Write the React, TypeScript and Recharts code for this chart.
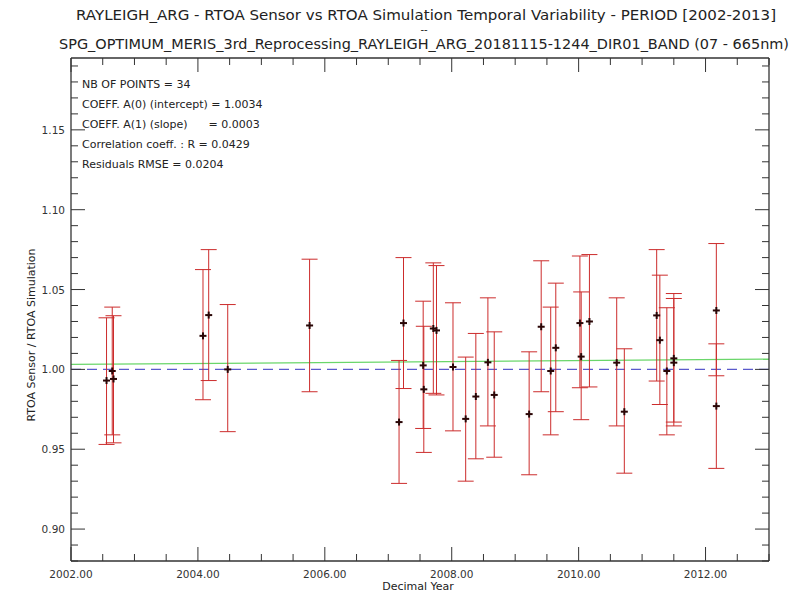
import React from 'react';
import { ScatterChart, Scatter, XAxis, YAxis, ErrorBar, ReferenceLine } from 'recharts';

// decimal year of each measurement
const YEARS = [
  2002.56, 2002.65, 2002.67, 2004.08, 2004.17, 2004.47, 2005.76, 2007.17, 2007.24, 2007.55,
  2007.56, 2007.71, 2007.76, 2008.02, 2008.22, 2008.38, 2008.57, 2008.67, 2009.22, 2009.41,
  2009.56, 2009.64, 2010.02, 2010.04, 2010.17, 2010.6, 2010.72, 2011.23, 2011.28, 2011.39,
  2011.5, 2011.5, 2012.17, 2012.17,
];
// RTOA sensor / RTOA simulation
const RATIOS = [
  0.993, 0.999, 0.994, 1.021, 1.034, 1.0, 1.0275, 0.967, 1.029, 1.0025,
  0.9875, 1.0256, 1.0244, 1.0015, 0.969, 0.983, 1.0044, 0.984, 0.972, 1.0267,
  0.999, 1.0135, 1.029, 1.008, 1.03, 1.0042, 0.9735, 1.0338, 1.0183, 0.999,
  1.0069, 1.0042, 1.0369, 0.977,
];
// error bar ends
const BAR_TOP = [
  1.0323, 1.039, 1.0336, 1.0625, 1.075, 1.0406, 1.069, 1.0056, 1.07, 1.0427,
  1.027, 1.0667, 1.065, 1.0417, 1.0077, 1.0225, 1.0448, 1.0235, 1.011, 1.068,
  1.039, 1.054, 1.071, 1.0485, 1.0719, 1.0448, 1.0129, 1.075, 1.059, 1.0386,
  1.0475, 1.0444, 1.0788, 1.016,
];
const BAR_BOTTOM = [
  0.953, 0.959, 0.954, 0.981, 0.993, 0.961, 0.986, 0.9286, 0.988, 0.963,
  0.948, 0.985, 0.984, 0.9615, 0.93, 0.944, 0.9646, 0.945, 0.934, 0.986,
  0.959, 0.9735, 0.9885, 0.9685, 0.989, 0.9646, 0.935, 0.9927, 0.978, 0.959,
  0.967, 0.9646, 0.996, 0.938,
];

// linear fit, read at both ends of the period
const FIT_YEARS = [2002, 2013];
const FIT_VALUES = [1.0031, 1.0064];

const X_TICKS = [
  2002, 2002.5, 2003, 2003.5, 2004, 2004.5, 2005, 2005.5, 2006, 2006.5, 2007, 2007.5,
  2008, 2008.5, 2009, 2009.5, 2010, 2010.5, 2011, 2011.5, 2012, 2012.5, 2013,
];
const X_LABELLED = [2002, 2004, 2006, 2008, 2010, 2012];
const Y_TICKS = [
  0.88, 0.89, 0.9, 0.91, 0.92, 0.93, 0.94, 0.95, 0.96, 0.97, 0.98, 0.99, 1.0, 1.01,
  1.02, 1.03, 1.04, 1.05, 1.06, 1.07, 1.08, 1.09, 1.1, 1.11, 1.12, 1.13, 1.14, 1.15,
  1.16, 1.17, 1.18, 1.19,
];
const Y_LABELLED = [0.9, 0.95, 1.0, 1.05, 1.1, 1.15];

const STATS = [
  'NB OF POINTS = 34',
  'COEFF. A(0) (intercept) = 1.0034',
  'COEFF. A(1) (slope)      = 0.0003',
  'Correlation coeff. : R = 0.0429',
  'Residuals RMSE = 0.0204',
];

const TITLE_1 = 'RAYLEIGH_ARG - RTOA Sensor vs RTOA Simulation Temporal Variability - PERIOD [2002-2013]';
const TITLE_2 = 'SPG_OPTIMUM_MERIS_3rd_Reprocessing_RAYLEIGH_ARG_20181115-1244_DIR01_BAND (07 - 665nm)';

const AXIS = '#333';
const FONT = "'DejaVu Sans', sans-serif";

const points = YEARS.map((x, i) => ({
  x,
  y: RATIOS[i],
  err: [RATIOS[i] - BAR_BOTTOM[i], BAR_TOP[i] - RATIOS[i]],
}));

const isMajor = (v: number, list: number[]) => list.some((m) => Math.abs(m - v) < 1e-6);

const BottomTick = (p: any) => {
  const major = isMajor(p.payload.value, X_LABELLED);
  return (
    <g>
      <line x1={p.x} x2={p.x} y1={p.y} y2={p.y - (major ? 14 : 7)} stroke={AXIS} />
      {major && (
        <text x={p.x} y={p.y + 17} textAnchor="middle" fontSize={10.5} fontFamily={FONT} fill="#333">
          {p.payload.value.toFixed(2)}
        </text>
      )}
    </g>
  );
};

const TopTick = (p: any) => {
  const major = isMajor(p.payload.value, X_LABELLED);
  return <line x1={p.x} x2={p.x} y1={p.y} y2={p.y + (major ? 14 : 7)} stroke={AXIS} />;
};

const LeftTick = (p: any) => {
  const major = isMajor(p.payload.value, Y_LABELLED);
  return (
    <g>
      <line x1={p.x} x2={p.x + (major ? 14 : 7)} y1={p.y} y2={p.y} stroke={AXIS} />
      {major && (
        <text x={p.x - 6} y={p.y + 4} textAnchor="end" fontSize={10.5} fontFamily={FONT} fill="#333">
          {p.payload.value.toFixed(2)}
        </text>
      )}
    </g>
  );
};

const RightTick = (p: any) => {
  const major = isMajor(p.payload.value, Y_LABELLED);
  return <line x1={p.x} x2={p.x - (major ? 14 : 7)} y1={p.y} y2={p.y} stroke={AXIS} />;
};

const Plus = (p: any) => (
  <g stroke="#2a0606" strokeWidth={2}>
    <line x1={p.cx - 3.5} x2={p.cx + 3.5} y1={p.cy} y2={p.cy} />
    <line x1={p.cx} x2={p.cx} y1={p.cy - 3.5} y2={p.cy + 3.5} />
  </g>
);

export default function App() {
  return (
    <div style={{ position: 'absolute', left: 0, top: 0, width: 791, height: 594, background: '#fff' }}>
      <ScatterChart width={791} height={594} margin={{ top: 57, right: 21, bottom: 32, left: 70 }}>
        <XAxis
          dataKey="x"
          type="number"
          domain={[2002, 2013]}
          allowDataOverflow
          ticks={X_TICKS}
          interval={0}
          height={1}
          tickSize={0}
          tickMargin={0}
          tickLine={false}
          tick={(p: any) => <BottomTick {...p} />}
          axisLine={{ stroke: AXIS, strokeWidth: 1.3 }}
        />
        <XAxis
          xAxisId="top"
          orientation="top"
          dataKey="x"
          type="number"
          domain={[2002, 2013]}
          allowDataOverflow
          ticks={X_TICKS}
          interval={0}
          height={1}
          tickSize={0}
          tickMargin={0}
          tickLine={false}
          tick={(p: any) => <TopTick {...p} />}
          axisLine={{ stroke: AXIS, strokeWidth: 1.3 }}
        />
        <YAxis
          dataKey="y"
          type="number"
          domain={[0.88, 1.195]}
          allowDataOverflow
          ticks={Y_TICKS}
          interval={0}
          width={1}
          tickSize={0}
          tickMargin={0}
          tickLine={false}
          tick={(p: any) => <LeftTick {...p} />}
          axisLine={{ stroke: AXIS, strokeWidth: 1.3 }}
        />
        <YAxis
          yAxisId="right"
          orientation="right"
          dataKey="y"
          type="number"
          domain={[0.88, 1.195]}
          allowDataOverflow
          ticks={Y_TICKS}
          interval={0}
          width={1}
          tickSize={0}
          tickMargin={0}
          tickLine={false}
          tick={(p: any) => <RightTick {...p} />}
          axisLine={{ stroke: AXIS, strokeWidth: 1.3 }}
        />
        <ReferenceLine y={1} stroke="#5a5acc" strokeWidth={1.3} strokeDasharray="10 6" />
        <ReferenceLine
          segment={[
            { x: FIT_YEARS[0], y: FIT_VALUES[0] },
            { x: FIT_YEARS[1], y: FIT_VALUES[1] },
          ]}
          stroke="#6ad66a"
          strokeWidth={1.3}
        />
        <Scatter data={points} shape={(p: any) => <Plus {...p} />} isAnimationActive={false}>
          <ErrorBar dataKey="err" direction="y" width={8} stroke="#cc2c2c" strokeWidth={1} isAnimationActive={false} />
        </Scatter>
      </ScatterChart>
      <svg
        width={791}
        height={594}
        style={{ position: 'absolute', left: 0, top: 0, pointerEvents: 'none' }}
        fontFamily={FONT}
        fill="#222"
      >
        <text x={426} y={20} fontSize={14} textAnchor="middle" textLength={700} lengthAdjust="spacingAndGlyphs">
          {TITLE_1}
        </text>
        <text x={424} y={33} fontSize={10} textAnchor="middle">
          --
        </text>
        <text x={424} y={49} fontSize={14} textAnchor="middle" textLength={730} lengthAdjust="spacingAndGlyphs">
          {TITLE_2}
        </text>
        {STATS.map((s, i) => (
          <text key={s} x={82} y={88 + i * 20} fontSize={11} style={{ whiteSpace: 'pre' }}>
            {s}
          </text>
        ))}
        <text x={418} y={590} fontSize={11} textAnchor="middle">
          Decimal Year
        </text>
        <text x={0} y={0} fontSize={11} textAnchor="middle" transform="translate(35 335) rotate(-90)">
          RTOA Sensor / RTOA Simulation
        </text>
      </svg>
    </div>
  );
}
